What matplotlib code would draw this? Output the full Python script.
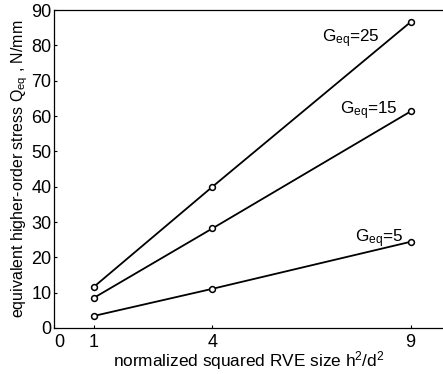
import matplotlib
matplotlib.use("Agg")
import matplotlib.pyplot as plt
import matplotlib.transforms as mtransforms

# normalized squared RVE size h^2/d^2
rve_size = [1, 4, 9]

# equivalent higher-order stress for each G_eq
q_g25 = [11.6, 40.0, 86.6]
q_g15 = [8.5, 28.2, 61.3]
q_g5 = [3.4, 11.1, 24.4]

x_ticks = [0, 1, 4, 9]
y_ticks = [0, 10, 20, 30, 40, 50, 60, 70, 80, 90]

plt.rcParams['font.family'] = ['Liberation Sans', 'DejaVu Sans']
plt.rcParams['mathtext.fontset'] = 'custom'
plt.rcParams['mathtext.rm'] = 'Liberation Sans'
plt.rcParams['mathtext.it'] = 'Liberation Sans'

fig = plt.figure(figsize=(4.43, 3.74), dpi=100)
ax = fig.add_axes([0.122, 0.123, 0.878, 0.850])

for series in (q_g25, q_g15, q_g5):
    ax.plot(rve_size, series, color='black', lw=1.3, marker='o', ms=4.2,
            mfc='white', mec='black', mew=1.1)

ax.set_xlim(0, 9.82)
ax.set_ylim(0, 90)
ax.set_xticks(x_ticks)
ax.set_yticks(y_ticks)
ax.tick_params(direction='in', length=2, width=0.8, labelsize=13)
ax.tick_params(axis='y', pad=2)
ax.tick_params(axis='x', pad=4)

# nudge the x origin label clear of the y origin label
shift = mtransforms.ScaledTranslation(3.5 / 72, 0, fig.dpi_scale_trans)
zero_label = ax.get_xticklabels()[0]
zero_label.set_transform(zero_label.get_transform() + shift)

ax.spines['right'].set_visible(False)
for side in ('top', 'bottom'):
    ax.spines[side].set_linestyle((0, (1, 1)))
    ax.spines[side].set_linewidth(0.9)
ax.spines['left'].set_linewidth(0.9)

ax.text(6.77, 81.8, r'G$_{\mathrm{eq}}$=25', fontsize=12.3, va='center')
ax.text(7.22, 61.4, r'G$_{\mathrm{eq}}$=15', fontsize=12.3, va='center')
ax.text(7.6, 25.2, r'G$_{\mathrm{eq}}$=5', fontsize=12.3, va='center')

ax.set_xlabel(r'normalized squared RVE size h$^2$/d$^2$', fontsize=12.4, labelpad=-1)
ax.set_ylabel(r'equivalent higher-order stress Q$_{\mathrm{eq}}$ , N/mm', fontsize=11.5, labelpad=1)

fig.savefig('out.png', dpi=100)
